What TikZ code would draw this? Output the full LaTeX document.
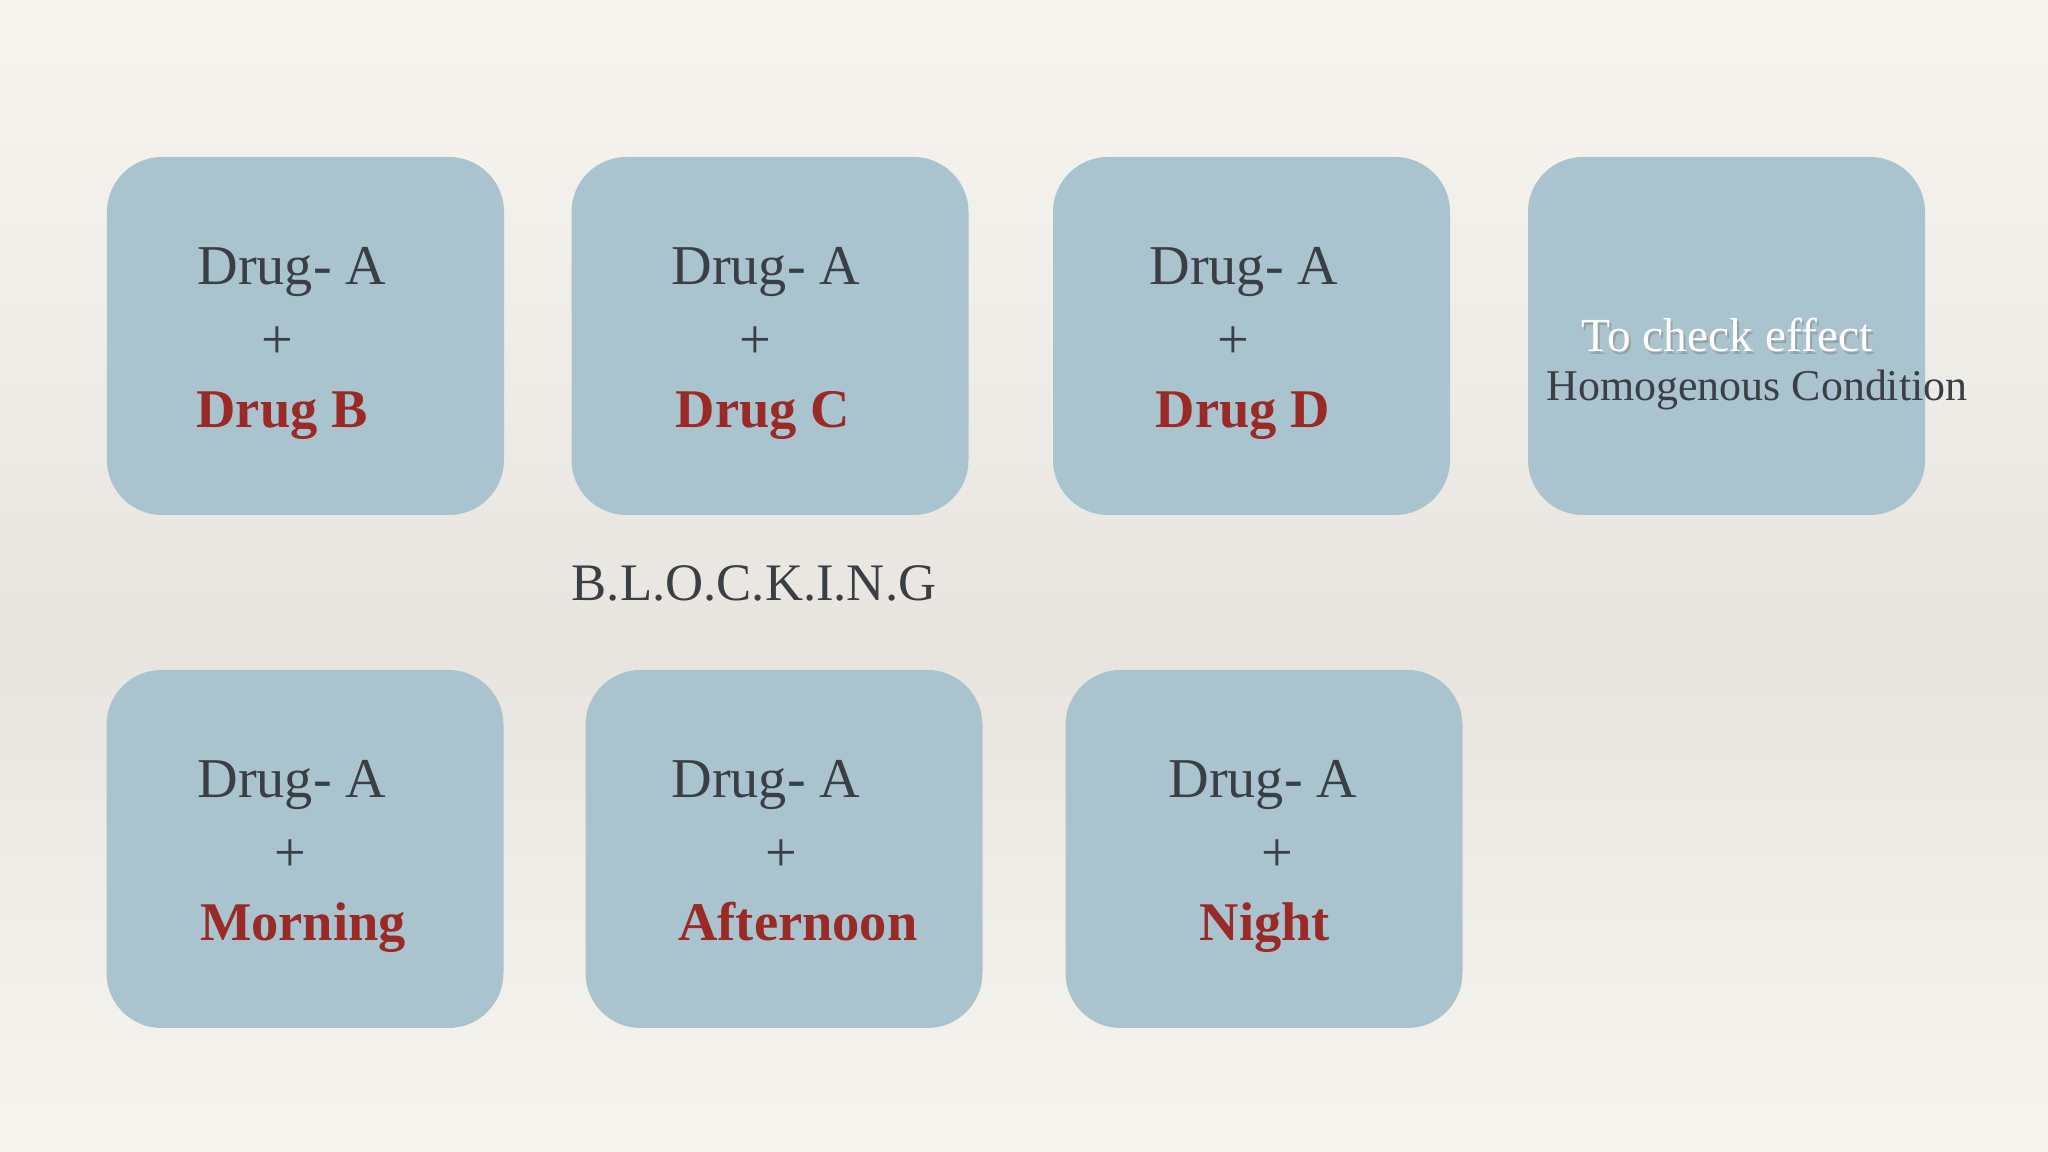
\documentclass[tikz,border=0pt]{standalone}
\usepackage{fontspec}
\setmainfont{Liberation Serif}
\definecolor{paper}{HTML}{F7F5F0}
\definecolor{band}{HTML}{E8E5E0}
\definecolor{cardblue}{HTML}{A9C3CF}
\definecolor{ink}{HTML}{3A3F45}
\definecolor{wine}{HTML}{9A2A25}

\begin{document}
\begin{tikzpicture}[line join=round, line cap=round, font=\fontsize{16}{19}\selectfont,
	card/.style={fill=cardblue, rounded corners=5.5mm, minimum width=3.97cm, minimum height=3.58cm, inner sep=0pt},
	txt/.style={text=ink, inner sep=0pt, anchor=base},
	plus/.style={text=ink, inner sep=0pt},
	pick/.style={text=wine, inner sep=0pt, anchor=base, font=\fontsize{15.5}{18}\selectfont\bfseries}]
	\useasboundingbox (0,0) rectangle (20.48,11.52);
	\shade[top color=paper, bottom color=band] (0,5.0) rectangle (20.48,11.52);
	\shade[top color=band, bottom color=paper] (0,0) rectangle (20.48,5.0);
	
	% cards
	\foreach \n/\x/\y in {b/3.055/8.16, c/7.70/8.16, d/12.515/8.16, h/17.265/8.16, m/3.05/3.03, f/7.84/3.03, n/12.64/3.03}
	\node[card] (\n) at (\x,\y) {};
	
	% Drug- A + ...
	\foreach \n/\a/\p/\w/\word in {b/-0.135/-0.285/-0.235/Drug B, c/-0.04/-0.15/-0.07/Drug C, d/-0.075/-0.185/-0.085/Drug D, m/-0.13/-0.15/-0.02/Morning, f/-0.18/-0.03/0.14/Afternoon, n/-0.01/0.13/0.01/Night}
	{
		\node[txt] (\n-a) at ([xshift=\a cm, yshift=0.51cm]\n.center) {Drug- A};
		\node[plus] (\n-p) at ([xshift=\p cm, yshift=-0.07cm]\n.center) {+};
		\node[pick] (\n-w) at ([xshift=\w cm, yshift=-0.92cm]\n.center) {\word};
	}
	
	\node[txt, text=black!45, opacity=0.6, font=\fontsize{13.5}{16}\selectfont] (h-s) at (17.29,7.975) {To check effect};
	\node[txt, text=white, font=\fontsize{13.5}{16}\selectfont] (h-t) at (17.27,8.00) {To check effect};
	\node[txt, font=\fontsize{12.5}{15}\selectfont] (h-c) at (17.57,7.51) {Homogenous Condition};
	
	\node[txt, font=\fontsize{15}{18}\selectfont] (blk) at (7.54,5.51) {B.L.O.C.K.I.N.G};
\end{tikzpicture}
\end{document}
